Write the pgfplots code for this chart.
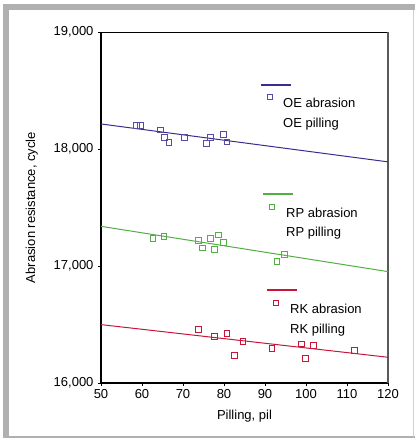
\documentclass[border=0pt]{standalone}
\usepackage{pgfplots}
\pgfplotsset{compat=1.18}
\usepackage{fontspec}
\setmainfont{Liberation Sans}
\definecolor{oe}{HTML}{3B2D8F}
\definecolor{rp}{HTML}{52B043}
\definecolor{rk}{HTML}{C8163A}
\definecolor{frame}{HTML}{B0B0B0}
\begin{document}
\fontsize{13}{15}\selectfont
\begin{tikzpicture}
\useasboundingbox (-101pt,-58pt) rectangle (314pt,383pt);
\begin{axis}[
  scale only axis,
  width=287pt, height=351pt,
  xmin=50, xmax=120, ymin=16000, ymax=19000,
  xtick={50,60,...,120}, ytick={16000,17000,18000,19000},
  scaled y ticks=false,
  /pgf/number format/.cd, 1000 sep={,}, assume math mode=true,
  /pgfplots/.cd,
  tick align=outside, xtick pos=bottom, ytick pos=left,
  major tick length=3pt,
  tick style={black, line width=0.8pt},
  axis line style={draw=none},
  ticklabel style={font=\fontsize{13}{15}\selectfont},
  xticklabel style={yshift=1pt},
  xlabel={Pilling, pil},
  ylabel={Abrasion resistance, cycle},
  label style={font=\fontsize{13}{15}\selectfont},
  xlabel style={yshift=-2pt},
  ylabel style={yshift=7pt},
  clip=false,
]
\draw[black, line width=1.6pt] (rel axis cs:0,1) -- (rel axis cs:0,0) -- (rel axis cs:1,0);
\draw[black, line width=0.9pt] (rel axis cs:0,1) -- (rel axis cs:1,1);
\draw[black!65, line width=2pt] (rel axis cs:1,1) -- (rel axis cs:1,0);
% OE
\addplot[oe, line width=1pt, no marks] coordinates {(50,18214) (120,17890)};
\addplot[only marks, mark=square, mark size=2.8pt, mark options={oe!85!white, line width=0.9pt}] coordinates {
(58.7,18199) (59.6,18199) (64.5,18162) (65.5,18100) (66.6,18054)
(70.4,18097) (75.7,18049) (76.7,18100) (79.8,18126) (80.7,18060)};
% RP
\addplot[rp, line width=1pt, no marks] coordinates {(50,17339) (120,16952)};
\addplot[only marks, mark=square, mark size=2.8pt, mark options={rp, line width=0.9pt}] coordinates {
(62.7,17237) (65.4,17254) (73.7,17216) (74.8,17154) (76.7,17237)
(77.6,17143) (78.7,17265) (79.8,17203) (92.9,17040) (94.7,17097)};
% RK
\addplot[rk, line width=1pt, no marks] coordinates {(50,16499) (120,16220)};
\addplot[only marks, mark=square, mark size=2.8pt, mark options={rk, line width=0.9pt}] coordinates {
(73.7,16459) (77.6,16399) (80.7,16421) (82.6,16233) (84.6,16356)
(91.7,16297) (98.9,16333) (99.9,16211) (101.8,16322) (111.8,16279)};
\end{axis}
% frame
\fill[frame] (-98pt,373pt) rectangle (314pt,379pt);
\fill[frame] (-98pt,-54pt) rectangle (-92pt,379pt);
\draw[frame, line width=1.5pt] (-98pt,-54pt) -- (314pt,-54pt);
\draw[frame!60, line width=0.6pt] (312.5pt,-54pt) -- (312.5pt,373pt);
% legends
\draw[oe, line width=1.3pt] (160pt,298pt) -- (190pt,298pt);
\draw[oe!85!white, line width=0.9pt] (166.5pt,283.5pt) rectangle (171.5pt,288.5pt);
\node[anchor=west, inner sep=0pt] at (182pt,280pt) {OE abrasion};
\node[anchor=west, inner sep=0pt] at (182pt,259pt) {OE pilling};
\draw[rp, line width=1.3pt] (162pt,189pt) -- (192pt,189pt);
\draw[rp, line width=0.9pt] (168.5pt,173.5pt) rectangle (173.5pt,178.5pt);
\node[anchor=west, inner sep=0pt] at (185pt,170pt) {RP abrasion};
\node[anchor=west, inner sep=0pt] at (185pt,150pt) {RP pilling};
\draw[rk, line width=1.3pt] (166pt,93pt) -- (196pt,93pt);
\draw[rk, line width=0.9pt] (172.5pt,77.5pt) rectangle (177.5pt,82.5pt);
\node[anchor=west, inner sep=0pt] at (189pt,74pt) {RK abrasion};
\node[anchor=west, inner sep=0pt] at (189pt,53pt) {RK pilling};
\end{tikzpicture}
\end{document}
